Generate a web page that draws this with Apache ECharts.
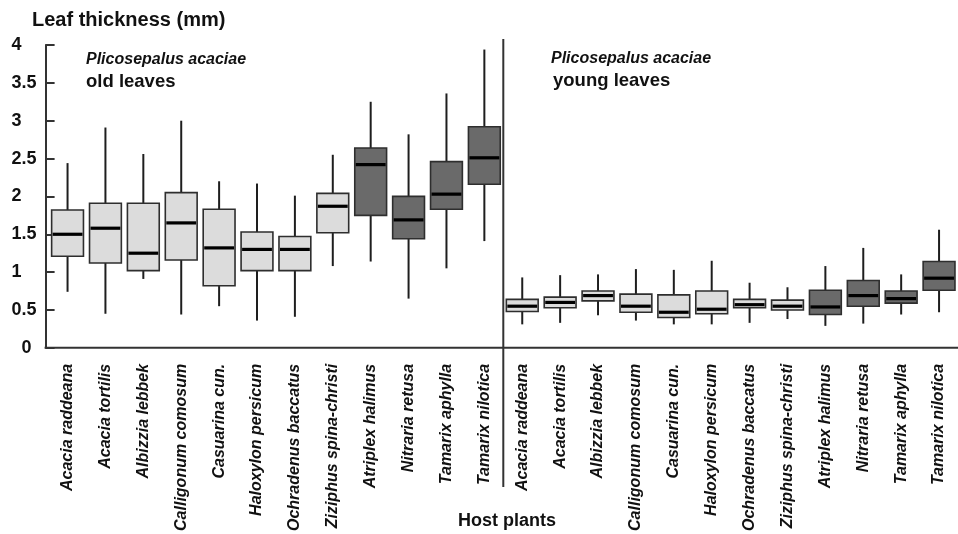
<!DOCTYPE html>
<html>
<head>
<meta charset="utf-8">
<script src="https://cdn.jsdelivr.net/npm/echarts@6/dist/echarts.min.js"></script>
<style>
html,body{margin:0;padding:0;background:#fff;}
#chart{width:958px;height:534px;}
</style>
</head>
<body>
<div id="chart"></div>
<script>
// ---- data ----
const hostPlants = ['Acacia raddeana','Acacia tortilis','Albizzia lebbek','Calligonum comosum','Casuarina cun.','Haloxylon persicum','Ochradenus baccatus','Ziziphus spina-christi','Atriplex halimus','Nitraria retusa','Tamarix aphylla','Tamarix nilotica'];
const categories = hostPlants.concat(hostPlants);
const yTicks = [0, 0.5, 1, 1.5, 2, 2.5, 3, 3.5, 4];
// dark boxes (halophytes) flag per host plant
const darkFlag = [0,0,0,0,0,0,0,0,1,1,1,1];
// [min, Q1, median, Q3, max]
const oldLeaves = [
  [0.74, 1.21, 1.50, 1.82, 2.44],
  [0.45, 1.12, 1.58, 1.91, 2.91],
  [0.91, 1.02, 1.25, 1.91, 2.56],
  [0.44, 1.16, 1.65, 2.05, 3.00],
  [0.55, 0.82, 1.32, 1.83, 2.20],
  [0.36, 1.02, 1.30, 1.53, 2.17],
  [0.41, 1.02, 1.30, 1.47, 2.01],
  [1.08, 1.52, 1.87, 2.04, 2.55],
  [1.14, 1.75, 2.42, 2.64, 3.25],
  [0.65, 1.44, 1.69, 2.00, 2.82],
  [1.05, 1.83, 2.03, 2.46, 3.36],
  [1.41, 2.16, 2.51, 2.92, 3.94]
];
const youngLeaves = [
  [0.31, 0.48, 0.55, 0.64, 0.93],
  [0.33, 0.53, 0.60, 0.67, 0.96],
  [0.43, 0.62, 0.69, 0.75, 0.97],
  [0.36, 0.47, 0.55, 0.71, 1.04],
  [0.31, 0.40, 0.47, 0.70, 1.03],
  [0.31, 0.45, 0.51, 0.75, 1.15],
  [0.33, 0.53, 0.57, 0.64, 0.86],
  [0.38, 0.50, 0.55, 0.63, 0.80],
  [0.29, 0.44, 0.54, 0.76, 1.08],
  [0.32, 0.55, 0.69, 0.89, 1.32],
  [0.44, 0.59, 0.65, 0.75, 0.97],
  [0.47, 0.76, 0.92, 1.14, 1.56]
];

// build series data: [xIndex, min, q1, med, q3, max, dark]
const boxData = [];
oldLeaves.forEach((d, i) => boxData.push([i].concat(d, [darkFlag[i]])));
youngLeaves.forEach((d, i) => boxData.push([i + 12].concat(d, [darkFlag[i]])));

const LIGHT = '#dcdcdc', DARK = '#6a6a6a', EDGE = '#2e2e2e';
const FONT = 'Liberation Sans, Arial, Helvetica, sans-serif';

const chart = echarts.init(document.getElementById('chart'), null, {renderer: 'canvas'});

function renderBox(params, api) {
  const x = api.value(0);
  const mn = api.value(1), q1 = api.value(2), md = api.value(3), q3 = api.value(4), mx = api.value(5);
  const dark = api.value(6);
  const pMin = api.coord([x, mn]);
  const pMax = api.coord([x, mx]);
  const pQ1 = api.coord([x, q1]);
  const pQ3 = api.coord([x, q3]);
  const pMd = api.coord([x, md]);
  const w = api.size([1, 0])[0] * 0.84;
  const cx = pMin[0];
  return {
    type: 'group',
    children: [
      {type: 'line', shape: {x1: cx, y1: pMax[1], x2: cx, y2: pMin[1]},
       style: {stroke: '#1e1e1e', lineWidth: 2}},
      {type: 'rect', shape: {x: cx - w / 2, y: pQ3[1], width: w, height: pQ1[1] - pQ3[1]},
       style: {fill: dark ? DARK : LIGHT, stroke: EDGE, lineWidth: 1.6}},
      {type: 'line', shape: {x1: cx - w / 2 + 1, y1: pMd[1], x2: cx + w / 2 - 1, y2: pMd[1]},
       style: {stroke: '#000', lineWidth: 3.2}}
    ]
  };
}

const option = {
  backgroundColor: '#fff',
  animation: false,
  grid: {left: 48.6, right: -12.2, top: 45, bottom: 182, containLabel: false},
  xAxis: {
    type: 'category',
    data: categories,
    boundaryGap: true,
    axisLine: {show: false},
    axisTick: {show: false},
    axisLabel: {
      interval: 0, rotate: 90, margin: 16,
      fontFamily: FONT, fontSize: 16, fontWeight: 'bold', fontStyle: 'italic', color: '#111'
    },
    splitLine: {show: false}
  },
  yAxis: {
    type: 'value',
    min: 0, max: 4, interval: 0.5,
    offset: 3,
    axisLine: {show: true, onZero: false, lineStyle: {color: '#333', width: 2}},
    axisTick: {show: true, inside: true, length: 9, lineStyle: {color: '#333', width: 2}},
    axisLabel: {
      align: 'left', margin: 34,
      fontFamily: FONT, fontSize: 18, fontWeight: 'bold', color: '#111',
      formatter: function (v) { return v === 0 ? '{z|0}' : String(v); },
      rich: {z: {fontFamily: FONT, fontSize: 18, fontWeight: 'bold', color: '#111', padding: [0, 0, 0, 10]}}
    },
    splitLine: {show: false}
  },
  series: [{
    type: 'custom',
    renderItem: renderBox,
    encode: {x: 0, y: [1, 2, 3, 4, 5]},
    data: boxData,
    clip: false
  }]
};
chart.setOption(option);

// axis-related decorations positioned from the scales
const y0 = chart.convertToPixel({yAxisIndex: 0}, 0);
const xa = chart.convertToPixel({xAxisIndex: 0}, 11);
const xb = chart.convertToPixel({xAxisIndex: 0}, 12);
const divX = (xa + xb) / 2;
const axisX = 48.6 - 3;

chart.setOption({
  graphic: [
    {type: 'line', shape: {x1: axisX - 1, y1: y0, x2: 958, y2: y0}, style: {stroke: '#333', lineWidth: 2}, z: 10},
    {type: 'line', shape: {x1: divX, y1: 39, x2: divX, y2: 487}, style: {stroke: '#333', lineWidth: 2}, z: 10},
    {type: 'text', x: 32, y: 20, style: {text: 'Leaf thickness (mm)', fill: '#111', font: 'bold 20px ' + FONT, textVerticalAlign: 'middle'}},
    {type: 'text', x: 86, y: 60, style: {text: 'Plicosepalus acaciae', fill: '#111', font: 'italic bold 16px ' + FONT, textVerticalAlign: 'middle'}},
    {type: 'text', x: 86, y: 82, style: {text: 'old leaves', fill: '#111', font: 'bold 18.5px ' + FONT, textVerticalAlign: 'middle'}},
    {type: 'text', x: 551, y: 59, style: {text: 'Plicosepalus acaciae', fill: '#111', font: 'italic bold 16px ' + FONT, textVerticalAlign: 'middle'}},
    {type: 'text', x: 553, y: 81, style: {text: 'young leaves', fill: '#111', font: 'bold 18.5px ' + FONT, textVerticalAlign: 'middle'}},
    {type: 'text', x: 507, y: 521, style: {text: 'Host plants', fill: '#111', font: 'bold 18px ' + FONT, textAlign: 'center', textVerticalAlign: 'middle'}}
  ]
});
</script>
</body>
</html>
